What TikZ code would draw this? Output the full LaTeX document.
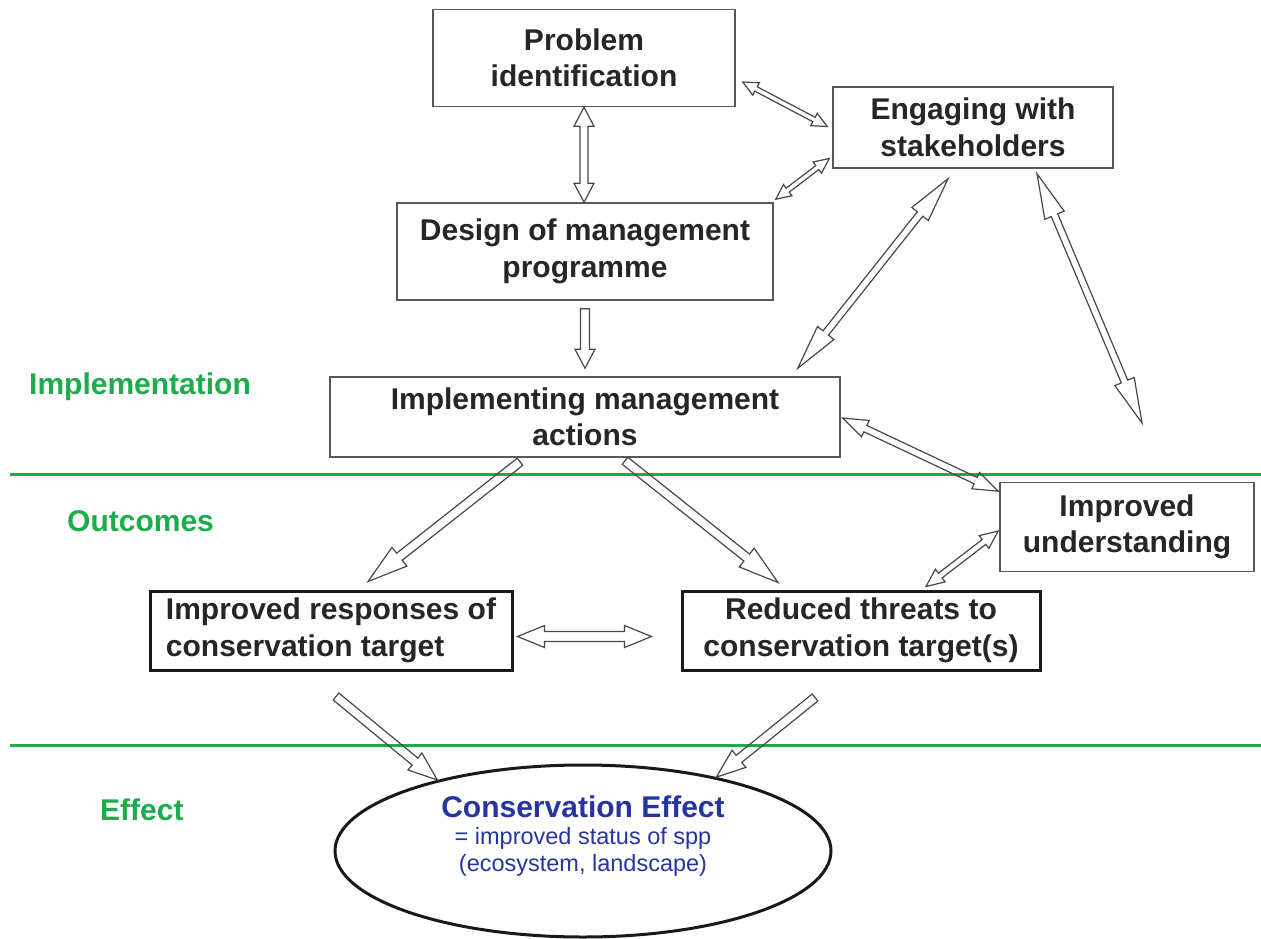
\documentclass[tikz,border=0pt]{standalone}
\usepackage{fontspec}
\setmainfont{Liberation Sans}
\usetikzlibrary{calc,shapes.geometric}

\definecolor{secgreen}{RGB}{28,172,75}
\definecolor{effblue}{RGB}{38,52,160}

\newcommand{\boxfont}{\fontsize{30}{36.5}\selectfont\bfseries}
\newcommand{\subfont}{\fontsize{23.5}{27}\selectfont}

% hollow block arrow: from, to, half shaft, half head, head length
\newcommand{\onearrow}[5]{%
  \draw[hollow] let \p1=#1, \p2=#2, \n1={atan2(\y2-\y1,\x2-\x1)} in
    ($(\p1)+(\n1+90:#3)$) -- ($(\p2)+(\n1+180:#5)+(\n1+90:#3)$)
    -- ($(\p2)+(\n1+180:#5)+(\n1+90:#4)$) -- (\p2)
    -- ($(\p2)+(\n1+180:#5)+(\n1-90:#4)$) -- ($(\p2)+(\n1+180:#5)+(\n1-90:#3)$)
    -- ($(\p1)+(\n1-90:#3)$) -- cycle;}
\newcommand{\twoarrow}[5]{%
  \draw[hollow] let \p1=#1, \p2=#2, \n1={atan2(\y2-\y1,\x2-\x1)} in
    (\p1) -- ($(\p1)+(\n1:#5)+(\n1+90:#4)$) -- ($(\p1)+(\n1:#5)+(\n1+90:#3)$)
    -- ($(\p2)+(\n1+180:#5)+(\n1+90:#3)$) -- ($(\p2)+(\n1+180:#5)+(\n1+90:#4)$) -- (\p2)
    -- ($(\p2)+(\n1+180:#5)+(\n1-90:#4)$) -- ($(\p2)+(\n1+180:#5)+(\n1-90:#3)$)
    -- ($(\p1)+(\n1:#5)+(\n1-90:#3)$) -- ($(\p1)+(\n1:#5)+(\n1-90:#4)$) -- cycle;}

\tikzset{
  box/.style={draw=black!65, line width=1.5pt, text=black!85, font=\boxfont,
    align=center, inner sep=0pt},
  outbox/.style={box, draw=black!90, line width=3pt},
  band/.style={draw=secgreen, line width=3pt},
  seclabel/.style={text=secgreen, font=\boxfont, anchor=base west, inner sep=0pt},
  hollow/.style={draw=black!72, line width=1.2pt, line join=miter},
}

\begin{document}
\begin{tikzpicture}[x=1pt, y=-1pt]
	\useasboundingbox (0,0) rectangle (1261,939);
	% section bands
	\draw[band] (10,474) -- (1261,474);
	\draw[band] (10,745) -- (1261,745);
	\node[seclabel] (limp) at (29,394) {Implementation};
	\node[seclabel] (lout) at (67,531) {Outcomes};
	\node[seclabel] (leff) at (100,820) {Effect};

	\node[box, minimum width=302pt, minimum height=97pt] (prob) at (584,58) {Problem\\identification};
	\node[box, minimum width=280pt, minimum height=81pt] (eng) at (973,127.5) {Engaging with\\stakeholders};
	\node[box, minimum width=376pt, minimum height=97pt] (des) at (585,251.5) {Design of management\\programme};
	\node[box, minimum width=510pt, minimum height=80pt] (impl) at (585,417) {Implementing management\\actions};
	\node[box, minimum width=254pt, minimum height=89pt] (und) at (1127,527) {Improved\\understanding};
	\node[outbox, align=left, minimum width=362pt, minimum height=79pt] (resp) at (331,630.5) {Improved responses of\\conservation target};
	\node[outbox, minimum width=358pt, minimum height=79pt] (thr) at (861,630.5) {Reduced threats to\\conservation target(s)};
	\node[draw=black!90, line width=3pt, ellipse, minimum width=496pt, minimum height=172pt, inner sep=0pt] (eff) at (583,851) {};
	\node[text=effblue, font=\subfont, align=center, inner sep=0pt] (efftxt) at (583,836)
		{{\boxfont Conservation Effect}\\= improved status of spp\\(ecosystem, landscape)};
	\coordinate (open) at (1142,423);

	% connectors
	\twoarrow{(prob.south)}{(prob.south |- des.north)}{4pt}{10pt}{19pt}
	\twoarrow{($(prob.east)+(7,24)$)}{($(eng.west)+(-5,-1)$)}{2.5pt}{7pt}{15pt}
	\twoarrow{($(eng.west)+(-3,31)$)}{($(des.north east)+(2,-3)$)}{2.5pt}{7pt}{15pt}
	\onearrow{($(des.south)+(0,8)$)}{($(impl.north)+(0,-8)$)}{4.5pt}{10pt}{19pt}
	\twoarrow{($(eng.south)+(-25,10)$)}{($(impl.north east)+(-43,-8)$)}{3.5pt}{10.5pt}{45pt}
	\twoarrow{($(eng.south)+(64,5)$)}{(open)}{3.5pt}{10.5pt}{45pt}
	\twoarrow{($(impl.east)+(2,1)$)}{($(und.north west)+(-1,9.5)$)}{3.5pt}{9pt}{25pt}
	\onearrow{($(impl.south)+(-65,4)$)}{($(resp.north)+(37,-8)$)}{4.5pt}{12pt}{40pt}
	\onearrow{($(impl.south)+(40,3)$)}{($(thr.north)+(-83,-7)$)}{4.5pt}{12pt}{40pt}
	\twoarrow{($(und.west)+(-1,4)$)}{($(thr.north)+(65,-3)$)}{3pt}{8pt}{18pt}
	\twoarrow{($(resp.east)+(4,6)$)}{($(thr.west)+(-29,6)$)}{5pt}{11pt}{27pt}
	\onearrow{($(resp.south)+(5,25)$)}{(eff.154)}{4.5pt}{11pt}{29pt}
	\onearrow{($(thr.south)+(-46,26)$)}{(eff.29)}{4.5pt}{11pt}{29pt}
\end{tikzpicture}
\end{document}
